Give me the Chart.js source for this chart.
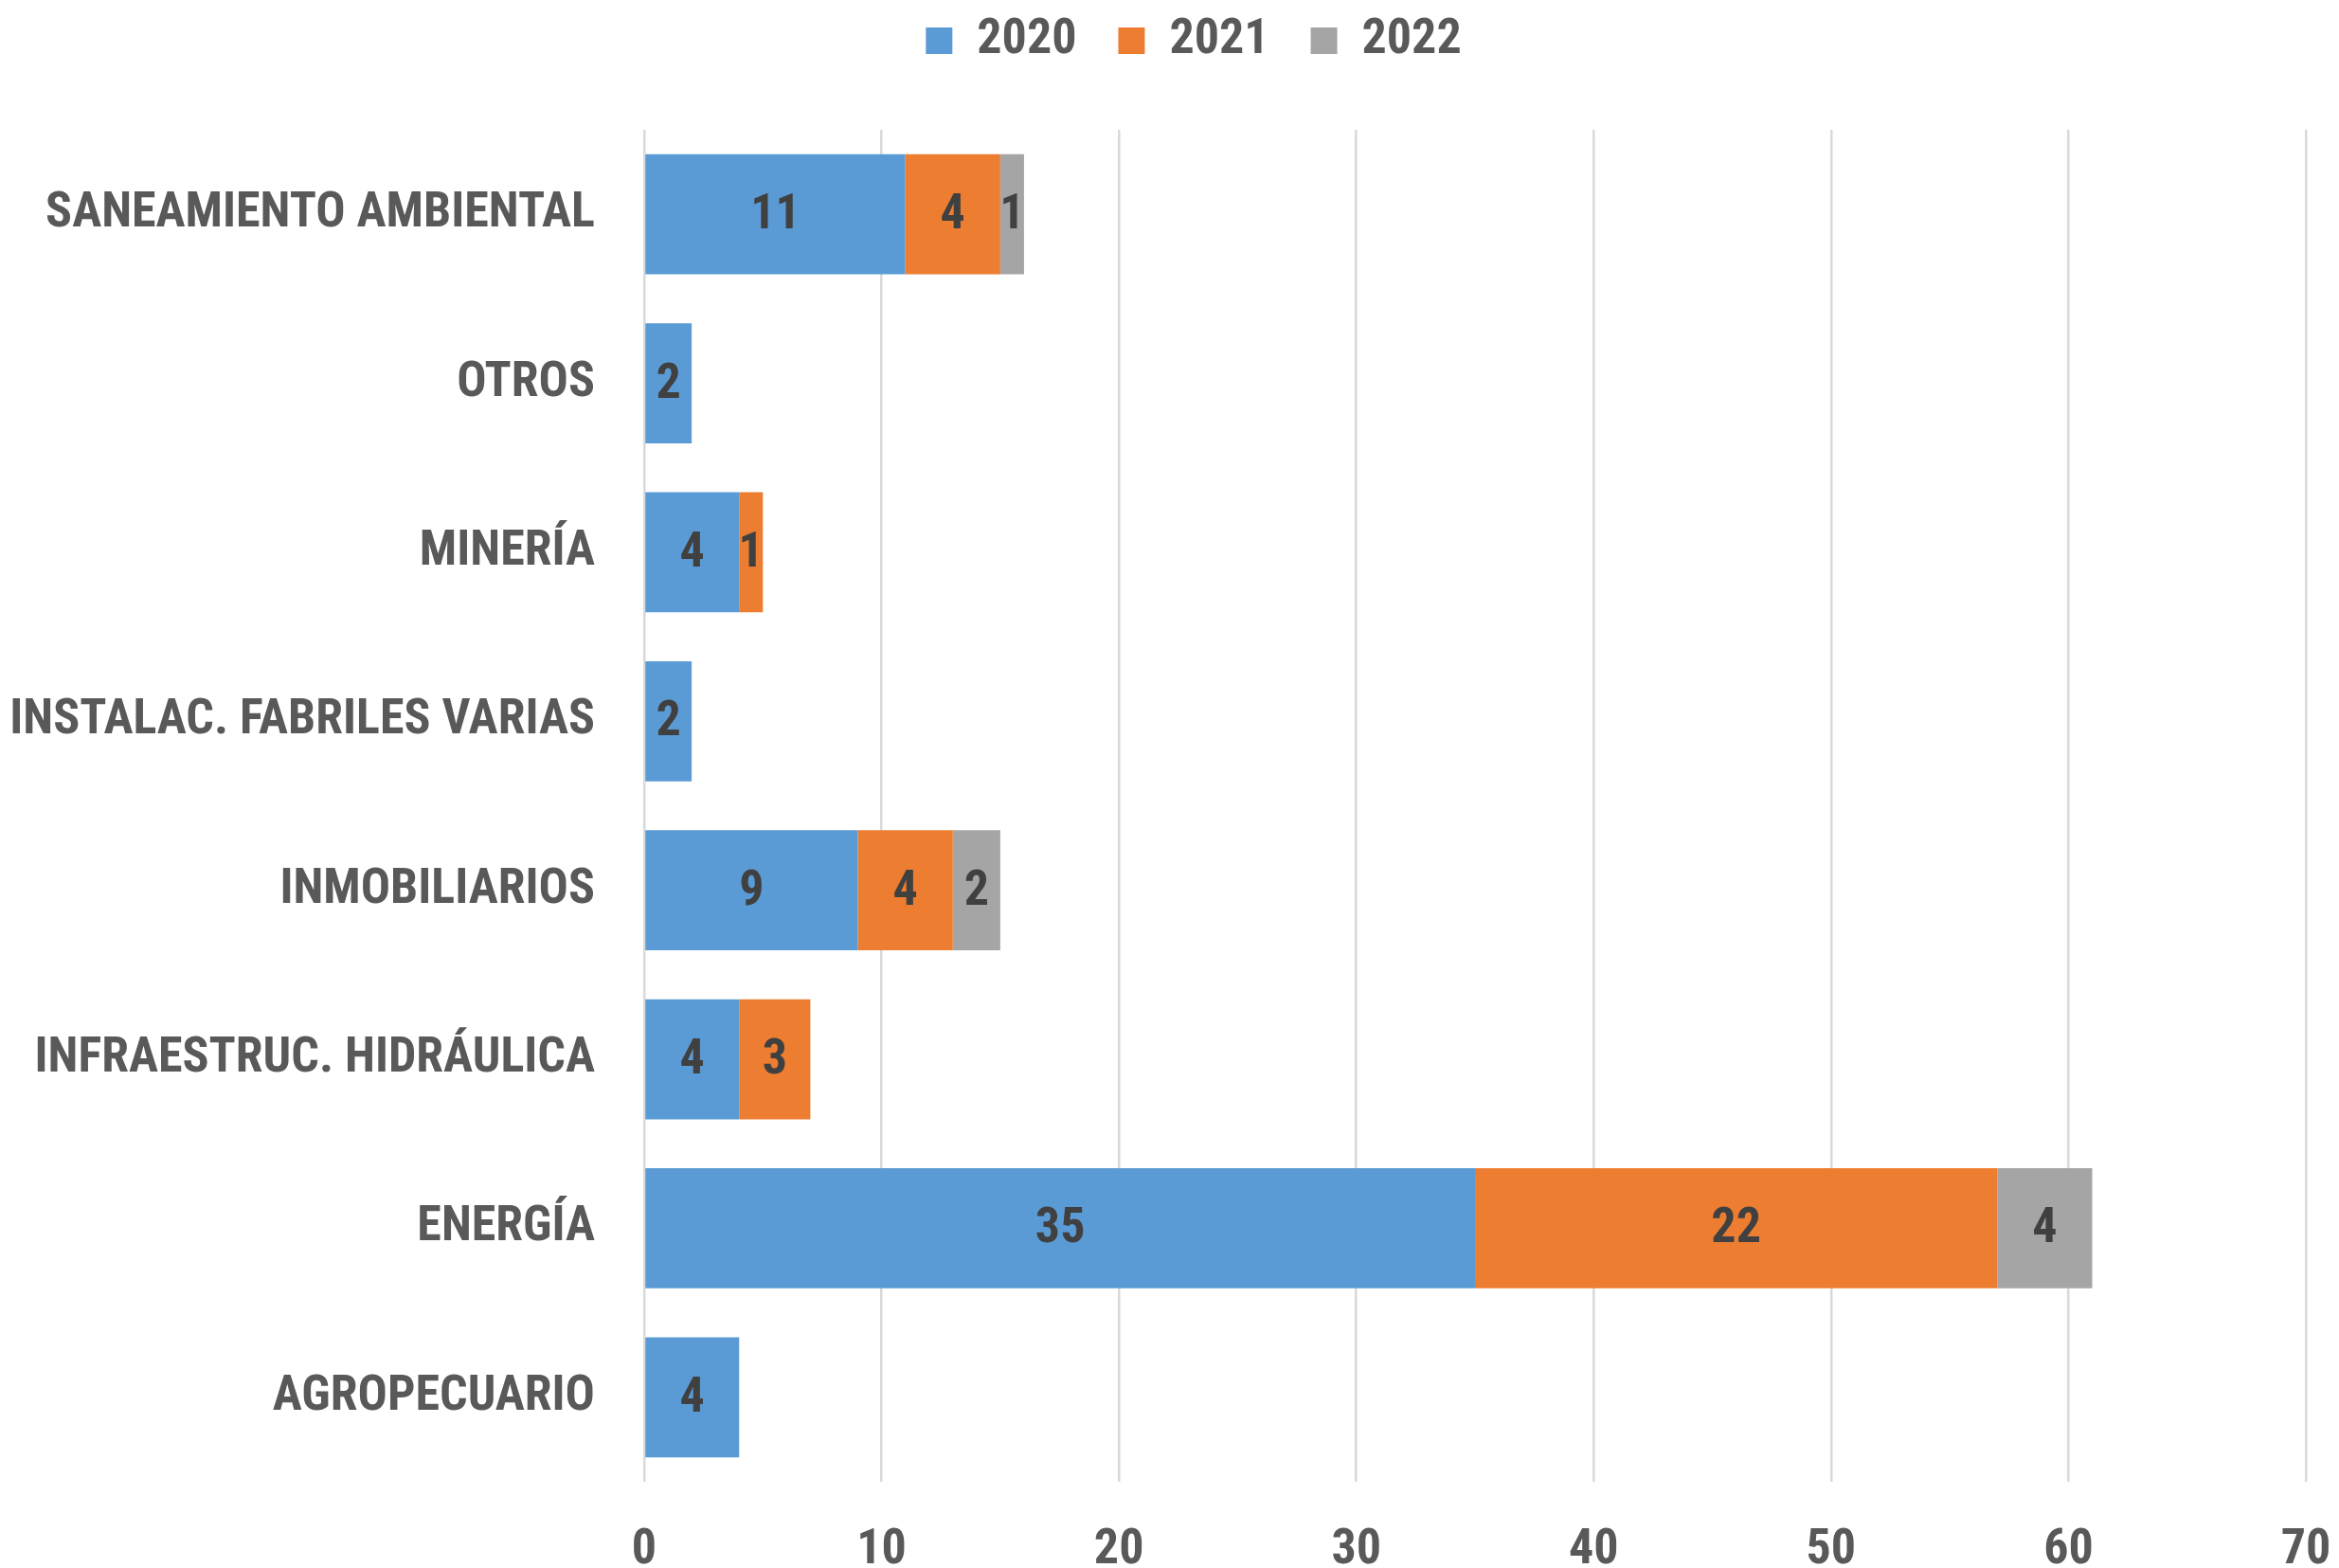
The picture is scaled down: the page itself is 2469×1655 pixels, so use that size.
<!DOCTYPE html>
<html>
<head>
<meta charset="utf-8">
<script src="https://cdn.jsdelivr.net/npm/chart.js@4/dist/chart.umd.min.js"></script>
<style>
	body{ margin:0; background:#fff; }
	#wrap{ width:2469px; height:1655px; }
</style>
</head>
<body>
<div id="wrap"><canvas id="sectores" width="2469" height="1655"></canvas></div>
<script>
const sectores = ['SANEAMIENTO AMBIENTAL', 'OTROS', 'MINERÍA', 'INSTALAC. FABRILES VARIAS', 'INMOBILIARIOS', 'INFRAESTRUC. HIDRÁULICA', 'ENERGÍA', 'AGROPECUARIO'];
const anios = ['2020', '2021', '2022'];
const datos2020 = [11, 2, 4, 2, 9, 4, 35, 4];
const datos2021 = [4, null, 1, null, 4, 3, 22, null];
const datos2022 = [1, null, null, null, 2, null, 4, null];
const colores = ['#5B9BD5', '#ED7D31', '#A5A5A5'];
const xTicks = [0, 10, 20, 30, 40, 50, 60, 70];

const fuente = '"Liberation Sans Narrow", "Roboto Condensed", Lato, sans-serif';

// etiquetas dentro de cada segmento
const etiquetas = {
	id: 'etiquetas',
	beforeLayout(chart){
		// espacio extra debajo de la leyenda
		let lg = chart.legend;
		if(lg && !lg._extra){
			let fit = lg.fit.bind(lg);
			lg.fit = function(){ fit(); this.height += 58; };
			lg._extra = true;
		}
	},
	afterLayout(chart){
		// leyenda un poco a la derecha
		let lg = chart.legend;
		if(lg){ lg.left += 43; lg.right += 43; }
	},
	afterDatasetsDraw(chart){
		let ctx = chart.ctx;
		ctx.save();
		ctx.font = 'bold 52px ' + fuente;
		ctx.fillStyle = '#404040';
		ctx.textAlign = 'center';
		ctx.textBaseline = 'middle';
		chart.data.datasets.forEach((ds, i) => {
			let meta = chart.getDatasetMeta(i);
			meta.data.forEach((bar, j) => {
				let v = ds.data[j];
				if(v == null) return;
				let p = bar.getProps(['x', 'y', 'base'], true);
				ctx.fillText(String(v), (p.x + p.base) / 2, p.y + 2);
			});
		});
		ctx.restore();
	}
};

function sectorChart(id){
	let series = [datos2020, datos2021, datos2022];
	const data = {
		labels: sectores,
		datasets: anios.map((a, i) => ({
			label: a,
			data: series[i],
			backgroundColor: colores[i],
			borderWidth: 0,
			categoryPercentage: 1,
			barPercentage: 0.71
		}))
	};
	const config = {
		type: 'bar',
		data: data,
		plugins: [etiquetas],
		options: {
			indexAxis: 'y',
			responsive: false,
			animation: false,
			layout: { autoPadding: false, padding: { top: -27, right: 35, left: 0, bottom: 0 } },
			plugins: {
				legend: {
					position: 'top',
					labels: {
						font: { size: 52, family: fuente, weight: 'bold' },
						color: '#595959',
						boxWidth: 28,
						boxHeight: 28,
						padding: 44
					}
				},
				tooltip: { enabled: false }
			},
			scales: {
				x: {
					stacked: true,
					min: 0,
					max: 70,
					afterBuildTicks: s => { s.ticks = xTicks.map(v => ({ value: v })); },
					afterFit: s => { s.height = 91; s.paddingLeft = 0; s.paddingRight = 0; },
					grid: { color: '#D9D9D9', lineWidth: 2.5, drawTicks: false },
					border: { display: false },
					ticks: {
						padding: 42,
						color: '#595959',
						font: { size: 52, family: fuente, weight: 'bold' }
					}
				},
				y: {
					stacked: true,
					afterFit: s => { s.width = 680; },
					grid: { display: false },
					border: { display: false },
					ticks: {
						padding: 44,
						color: '#595959',
						font: { size: 52, family: fuente, weight: 'bold' }
					}
				}
			}
		}
	};
	let ctx = document.getElementById(id).getContext('2d');
	new Chart(ctx, config);
}

sectorChart('sectores');
</script>
</body>
</html>
